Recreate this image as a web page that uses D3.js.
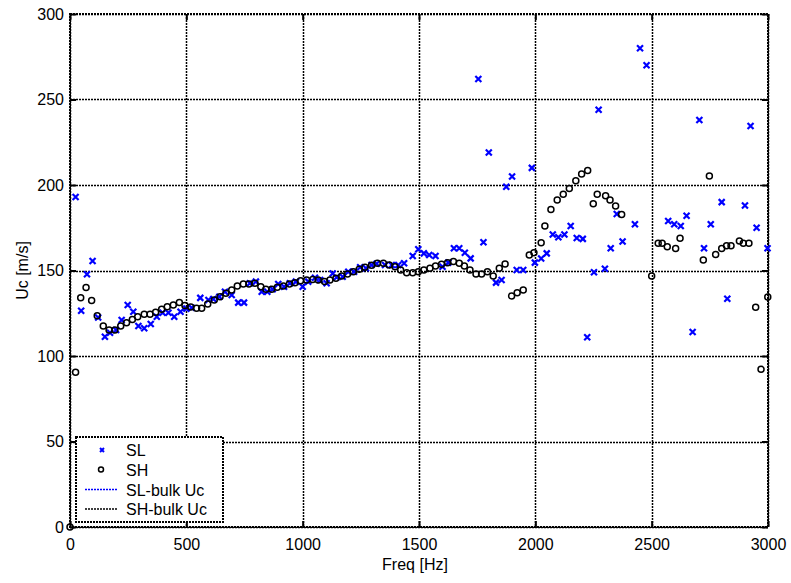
<!DOCTYPE html>
<html>
<head>
<meta charset="utf-8">
<script src="https://cdn.jsdelivr.net/npm/d3@7"></script>
<style>
  html, body { margin: 0; padding: 0; background: #fff; }
  svg { display: block; }
  text { font-family: "Liberation Sans", Arial, Helvetica, sans-serif; fill: #000; }
</style>
</head>
<body>
<svg id="chart" width="791" height="583"></svg>
<script>
// ---- data ----
const slFreq = [24,48,73,97,121,150,172,198,222,248,272,294,319,347,373,398,423,448,475,500,523,560,595,616,642,666,695,723,748,773,799,824,848,871,895,920,945,971,1000,1024,1053,1075,1103,1129,1146,1172,1196,1221,1247,1272,1296,1318,1354,1383,1411,1436,1473,1497,1521,1544,1571,1601,1626,1650,1673,1697,1722,1755,1777,1800,1831,1855,1875,1900,1920,1948,1985,1998,2025,2049,2075,2099,2125,2152,2178,2204,2223,2252,2272,2299,2324,2350,2375,2428,2450,2478,2571,2597,2625,2650,2676,2705,2725,2754,2801,2825,2901,2925,2951,2998];
const slUc = [193,126.5,147.8,155.6,122.5,111.3,113.6,115.2,121,129.8,125.9,117.5,116.2,118.7,123,125.3,125.3,123,125.9,127.7,128.2,134,132.7,133.3,134.7,137.6,135.7,131.2,131.2,142.5,143.5,137.6,137.6,139,142.1,140.5,142.5,143.5,140.5,143.5,145.8,144.4,142.5,148.3,146,146.4,149.3,149.3,151.9,151.3,153.2,154,153.2,153.2,153.2,154.2,158.5,162.4,160,159.1,158.5,152.2,154.6,163,163,160.4,157.1,262,166.5,219,142.9,144.4,199,205,150.3,150.3,210,154.6,157,160,171,169.5,171,176,169,168.5,111,149,244,151,163,183,167,177,280,270,179,177,176,182,114,238,163,177,190,133.5,188,234.5,175,163];

const shFreq = [0,24,46,69,93,117,143,168,193,218,243,268,291,319,344,368,394,418,444,470,494,519,544,566,592,620,645,670,695,719,745,769,795,820,842,867,891,917,943,967,991,1017,1043,1067,1094,1117,1143,1168,1193,1218,1243,1268,1296,1321,1347,1372,1397,1421,1447,1473,1497,1521,1547,1571,1597,1623,1648,1673,1695,1719,1745,1769,1794,1819,1845,1870,1898,1922,1948,1974,1994,2025,2041,2067,2094,2120,2146,2174,2199,2225,2249,2266,2302,2321,2345,2371,2500,2528,2545,2567,2603,2622,2722,2748,2775,2801,2822,2841,2877,2894,2918,2947,2970,2999];
const shUc = [0,90.5,134.1,140,132.4,123.6,117.5,115.2,115.2,117.5,119.5,121.4,123,124.4,124.4,125.6,127.3,128.8,129.8,131.3,129.6,128.7,127.9,127.9,130.4,132.7,134.7,136.7,138.6,140.9,142.1,142.1,142.5,140.5,139,139,140.2,140.9,142.1,142.9,144,144.4,144.8,144.4,143.5,144.4,145.4,146.8,148,149.3,150.7,151.9,153,154.2,154.2,153.2,152.2,150.3,148.7,148.7,149.3,150.3,151.3,152.6,153.6,154.6,155.2,154.2,152.6,150.3,148,148,149.3,146.8,151.3,153.8,135.1,137,138.6,159.1,160.4,166.3,176,185.7,191.2,194.6,198,202.5,206.5,208.5,189,194.6,193.7,191.2,187.7,182.8,146.8,165.9,165.9,163.9,162.9,168.8,156.1,205.3,159.4,162.9,164.5,164.5,167.3,165.9,165.9,128.5,92.2,134.5];

const xTicks = [0,500,1000,1500,2000,2500,3000];
const yTicks = [0,50,100,150,200,250,300];
const legendLabels = ["SL","SH","SL-bulk Uc","SH-bulk Uc"];
const xTitle = "Freq [Hz]";
const yTitle = "Uc [m/s]";

// ---- layout ----
const L = 70, R = 768, T = 14, B = 527;
const svg = d3.select("#chart");

const x = d3.scaleLinear().domain([0, 3000]).range([L, R]);
const y = d3.scaleLinear().domain([0, 300]).range([B, T]);
const px = v => Math.round(v) + 0.5;

// grid
const grid = svg.append("g");
grid.selectAll("line.gx").data(xTicks).enter().append("line")
  .attr("x1", d => px(x(d))).attr("x2", d => px(x(d))).attr("y1", T).attr("y2", B)
  .attr("stroke", "#000").attr("stroke-width", 1.5).attr("stroke-dasharray", "2,1");
grid.selectAll("line.gy").data(yTicks).enter().append("line")
  .attr("y1", d => px(y(d))).attr("y2", d => px(y(d))).attr("x1", L).attr("x2", R)
  .attr("stroke", "#000").attr("stroke-width", 1.5).attr("stroke-dasharray", "2,1");

// box
svg.append("rect").attr("x", L).attr("y", T).attr("width", R - L).attr("height", B - T)
  .attr("fill", "none").attr("stroke", "#000").attr("stroke-width", 2).attr("stroke-dasharray", "2,1")
  .attr("shape-rendering", "crispEdges");

// axes (ticks inward, labels)
const tickLen = 6;
const xAxisB = d3.axisBottom(x).tickValues(xTicks).tickSizeInner(-tickLen).tickSizeOuter(0).tickPadding(12).tickFormat(d3.format("d"));
const xAxisT = d3.axisTop(x).tickValues(xTicks).tickSizeInner(-tickLen).tickSizeOuter(0).tickFormat("");
const yAxisL = d3.axisLeft(y).tickValues(yTicks).tickSizeInner(-tickLen).tickSizeOuter(0).tickPadding(6).tickFormat(d3.format("d"));
const yAxisR = d3.axisRight(y).tickValues(yTicks).tickSizeInner(-tickLen).tickSizeOuter(0).tickFormat("");

function styleAxis(g) {
  g.select(".domain").remove();
  g.selectAll(".tick line").attr("stroke", "#000").attr("stroke-width", 2);
  g.selectAll(".tick text").attr("font-size", 16).attr("fill", "#000")
    .style("font-family", '"Liberation Sans", Arial, Helvetica, sans-serif');
}
svg.append("g").attr("transform", `translate(0,${B})`).call(xAxisB).call(styleAxis);
svg.append("g").attr("transform", `translate(0,${T})`).call(xAxisT).call(styleAxis);
svg.append("g").attr("transform", `translate(${L},0)`).call(yAxisL).call(styleAxis);
svg.append("g").attr("transform", `translate(${R},0)`).call(yAxisR).call(styleAxis);

// titles
svg.append("text").attr("x", (L + R) / 2 - 4).attr("y", 570).attr("text-anchor", "middle")
  .attr("font-size", 16).text(xTitle);
svg.append("text").attr("transform", `translate(28,${(T + B) / 2}) rotate(-90)`)
  .attr("text-anchor", "middle").attr("font-size", 16).text(yTitle);

// data
const xMark = "M-3,-3L3,3M-3,3L3,-3";
const slData = slFreq.map((f, i) => [f, slUc[i]]);
const shData = shFreq.map((f, i) => [f, shUc[i]]);

svg.append("g").selectAll("path").data(slData).enter().append("path")
  .attr("transform", d => `translate(${x(d[0])},${y(d[1])})`)
  .attr("d", xMark).attr("stroke", "#0000ff").attr("stroke-width", 2.2).attr("fill", "none");

svg.append("g").selectAll("circle").data(shData).enter().append("circle")
  .attr("cx", d => x(d[0])).attr("cy", d => y(d[1])).attr("r", 3)
  .attr("fill", "none").attr("stroke", "#000").attr("stroke-width", 1.5);

// legend
const lg = svg.append("g");
lg.append("rect").attr("x", 76).attr("y", 437).attr("width", 147).attr("height", 85)
  .attr("fill", "#fff").attr("stroke", "#000").attr("stroke-width", 2).attr("stroke-dasharray", "2,1")
  .attr("shape-rendering", "crispEdges");
const rowY = [450, 469.5, 489.5, 509];
legendLabels.forEach((lab, i) => {
  lg.append("text").attr("x", 126).attr("y", rowY[i] + 6).attr("font-size", 16).text(lab);
});
lg.append("path").attr("transform", `translate(102,${rowY[0]})`).attr("d", "M-2,-2L2,2M-2,2L2,-2")
  .attr("stroke", "#0000ff").attr("stroke-width", 2);
lg.append("circle").attr("cx", 101).attr("cy", rowY[1]).attr("r", 2.5)
  .attr("fill", "none").attr("stroke", "#000").attr("stroke-width", 1.5);
lg.append("line").attr("x1", 85).attr("x2", 117).attr("y1", rowY[2]).attr("y2", rowY[2])
  .attr("stroke", "#0000ff").attr("stroke-width", 1.5).attr("stroke-dasharray", "2,1");
lg.append("line").attr("x1", 85).attr("x2", 117).attr("y1", rowY[3]).attr("y2", rowY[3])
  .attr("stroke", "#000").attr("stroke-width", 1.5).attr("stroke-dasharray", "2,1");
</script>
</body>
</html>
